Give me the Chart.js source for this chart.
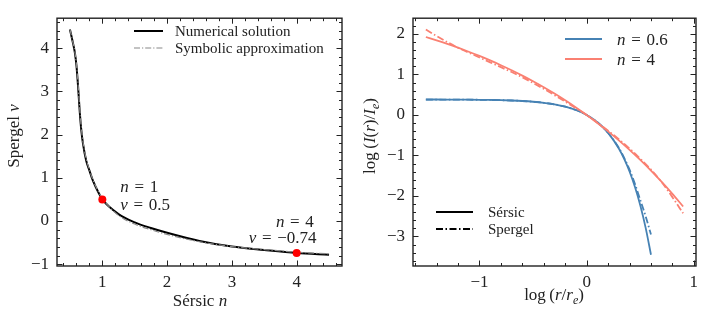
<!DOCTYPE html>
<html>
<head>
<meta charset="utf-8">
<script src="https://cdn.jsdelivr.net/npm/chart.js@4"></script>
<style>
  html, body { margin: 0; padding: 0; background: #fff; }
  #wrap { position: relative; width: 706px; height: 319px; }
  canvas { position: absolute; top: 0; }
</style>
</head>
<body>
<div id="wrap">
  <canvas id="left" width="353" height="319" style="left:0"></canvas>
  <canvas id="right" width="353" height="319" style="left:353px"></canvas>
</div>
<script>
// left panel: Spergel nu against Sersic n
const sersicN = [0.5, 0.55, 0.575, 0.6, 0.625, 0.65, 0.675, 0.7, 0.75, 0.8, 0.85, 0.9, 0.95, 1.0,
  1.25, 1.5, 1.75, 2.0, 2.5, 3.0, 3.5, 4.0, 4.5];
const nuNumerical = [4.43, 4.09, 3.90, 3.60, 3.12, 2.55, 2.10, 1.80, 1.40, 1.17, 0.95, 0.78, 0.63, 0.50,
  0.16, -0.03, -0.16, -0.27, -0.46, -0.59, -0.67, -0.74, -0.78];
const nuSymbolic = [4.43, 4.10, 3.92, 3.63, 3.18, 2.62, 2.16, 1.84, 1.44, 1.19, 0.97, 0.80, 0.65, 0.52,
  0.13, -0.07, -0.20, -0.31, -0.48, -0.59, -0.66, -0.72, -0.76];
const markedN = [1, 4];
const markedNu = [0.5, -0.74];

// right panel: profiles, log(r/re) against log(I/Ie)
const logR4 = [-1.5, -1.4, -1.3, -1.2, -1.1, -1.0, -0.9, -0.8, -0.7, -0.6, -0.5, -0.4, -0.3, -0.2, -0.1,
  0, 0.1, 0.2, 0.3, 0.4, 0.5, 0.6, 0.7, 0.8, 0.9];
const sersic4 = [1.926, 1.843, 1.755, 1.661, 1.562, 1.458, 1.347, 1.229, 1.105, 0.973, 0.833, 0.685, 0.528,
  0.362, 0.186, 0, -0.197, -0.406, -0.628, -0.862, -1.111, -1.374, -1.653, -1.948, -2.261];
const spergel4 = [2.11, 1.95, 1.80, 1.66, 1.54, 1.42, 1.30, 1.18, 1.06, 0.93, 0.79, 0.645, 0.49,
  0.33, 0.165, 0, -0.19, -0.39, -0.60, -0.83, -1.08, -1.35, -1.66, -2.03, -2.43];
const logR06 = [-1.5, -1.4, -1.3, -1.2, -1.1, -1.0, -0.9, -0.8, -0.7, -0.6, -0.5, -0.4, -0.3, -0.2, -0.1,
  0, 0.1, 0.2, 0.3, 0.35, 0.4, 0.45, 0.5, 0.55, 0.6];
const sersic06 = [0.382, 0.382, 0.381, 0.380, 0.378, 0.375, 0.371, 0.366, 0.357, 0.345, 0.327, 0.301, 0.262,
  0.205, 0.122, 0, -0.179, -0.443, -0.829, -1.086, -1.397, -1.773, -2.229, -2.782, -3.452];
const spergel06 = [0.380, 0.380, 0.380, 0.379, 0.377, 0.375, 0.371, 0.365, 0.357, 0.345, 0.327, 0.300, 0.262,
  0.205, 0.122, 0, -0.178, -0.44, -0.81, -1.06, -1.35, -1.70, -2.10, -2.50, -2.95];

const serif = '"Liberation Serif", "Times New Roman", serif';
const ink = "#222";
const blue = "#4682b4";
const salmon = "#fa8072";
const dashDot = [7, 2.5, 1.5, 2.5];

const pts = (xs, ys) => xs.map((x, i) => ({ x, y: ys[i] }));
const fmt = v => (v < 0 ? "\u2212" + Math.abs(v) : String(v));

function segFont(s, size) {
  if (s === "i") return `italic ${size}px ${serif}`;
  if (s === "s") return `italic ${Math.round(size * 0.7)}px ${serif}`;
  return `${size}px ${serif}`;
}

// text made of roman / italic / subscript pieces
function drawRich(ctx, segs, x, y, size, align) {
  ctx.save();
  ctx.fillStyle = ink;
  ctx.textBaseline = "alphabetic";
  let w = 0;
  segs.forEach(([t, s]) => { ctx.font = segFont(s, size); w += ctx.measureText(t).width; });
  let cx = align === "center" ? x - w / 2 : align === "right" ? x - w : x;
  segs.forEach(([t, s]) => {
    ctx.font = segFont(s, size);
    ctx.fillText(t, cx, s === "s" ? y + size * 0.22 : y);
    cx += ctx.measureText(t).width;
  });
  ctx.restore();
}

function drawRotated(ctx, segs, x, y, size) {
  ctx.save();
  ctx.translate(x, y);
  ctx.rotate(-Math.PI / 2);
  drawRich(ctx, segs, 0, 0, size, "center");
  ctx.restore();
}

function legendLine(ctx, x1, x2, y, color, width, dash) {
  ctx.save();
  ctx.strokeStyle = color;
  ctx.lineWidth = width;
  ctx.setLineDash(dash || []);
  ctx.beginPath();
  ctx.moveTo(x1, y);
  ctx.lineTo(x2, y);
  ctx.stroke();
  ctx.restore();
}

// inward ticks on all four sides plus the frame
const frameTicks = {
  id: "frameTicks",
  afterDraw(chart) {
    const { ctx, chartArea: a, scales: { x, y } } = chart;
    ctx.save();
    ctx.strokeStyle = ink;
    ctx.lineWidth = 1;
    const mark = (scale, step, len) => {
      const start = Math.ceil(scale.min / step - 1e-9);
      for (let k = start; k * step <= scale.max + 1e-9; k++) {
        const p = Math.round(scale.getPixelForValue(k * step)) + 0.5;
        ctx.beginPath();
        if (scale.axis === "x") {
          ctx.moveTo(p, a.bottom); ctx.lineTo(p, a.bottom - len);
          ctx.moveTo(p, a.top); ctx.lineTo(p, a.top + len);
        } else {
          ctx.moveTo(a.left, p); ctx.lineTo(a.left + len, p);
          ctx.moveTo(a.right, p); ctx.lineTo(a.right - len, p);
        }
        ctx.stroke();
      }
    };
    mark(x, 0.2, 3); mark(x, 1, 5.5);
    mark(y, 0.2, 3); mark(y, 1, 5.5);
    ctx.lineWidth = 1.4;
    ctx.strokeRect(a.left, a.top, a.right - a.left, a.bottom - a.top);
    ctx.restore();
  }
};

function axes(xmin, xmax, ymin, ymax, yWidth) {
  const tickFont = { family: serif, size: 17 };
  return {
    x: {
      type: "linear", min: xmin, max: xmax,
      grid: { display: false, drawTicks: false },
      border: { display: false },
      ticks: { stepSize: 1, includeBounds: false, autoSkip: false, maxRotation: 0, padding: 6,
        color: ink, font: tickFont, callback: fmt },
      afterFit: s => { s.height = 53; }
    },
    y: {
      type: "linear", min: ymin, max: ymax,
      grid: { display: false, drawTicks: false },
      border: { display: false },
      ticks: { stepSize: 1, includeBounds: false, autoSkip: false, padding: 8,
        color: ink, font: tickFont, callback: fmt },
      afterFit: s => { s.width = yWidth; }
    }
  };
}

const common = {
  responsive: false,
  animation: false,
  plugins: { legend: { display: false }, tooltip: { enabled: false } },
  elements: { point: { radius: 0 }, line: { cubicInterpolationMode: "monotone" } }
};

const eq = "\u2004=\u2004";

const leftText = {
  id: "leftText",
  afterDraw(chart) {
    const { ctx, scales: { x, y } } = chart;
    // legend
    legendLine(ctx, 134, 163, 31, "#000", 2);
    legendLine(ctx, 134, 163, 48, "#888", 1.2, [6, 2, 1.2, 2]);
    drawRich(ctx, [["Numerical solution", "r"]], 175, 36, 15, "left");
    drawRich(ctx, [["Symbolic approximation", "r"]], 175, 53, 15, "left");
    // annotations
    drawRich(ctx, [["n", "i"], [eq + "1", "r"]], x.getPixelForValue(1.276), y.getPixelForValue(0.665), 17, "left");
    drawRich(ctx, [["\u03bd", "i"], [eq + "0.5", "r"]], x.getPixelForValue(1.276), y.getPixelForValue(0.258), 17, "left");
    drawRich(ctx, [["n", "i"], [eq + "4", "r"]], x.getPixelForValue(3.68), y.getPixelForValue(-0.139), 17, "left");
    drawRich(ctx, [["\u03bd", "i"], [eq + "\u22120.74", "r"]], x.getPixelForValue(3.26), y.getPixelForValue(-0.513), 17, "left");
    // axis titles
    drawRich(ctx, [["S\u00e9rsic ", "r"], ["n", "i"]], 200, 306, 17, "center");
    drawRotated(ctx, [["Spergel ", "r"], ["\u03bd", "i"]], 19, 136, 17);
  }
};

new Chart(document.getElementById("left"), {
  type: "line",
  data: {
    datasets: [
      { data: pts(markedN, markedNu), showLine: false, pointRadius: 4, pointBackgroundColor: "#ff0000",
        pointBorderWidth: 0, borderColor: "#ff0000" },
      { data: pts(sersicN, nuSymbolic), borderColor: "#888", borderWidth: 1.2, borderDash: [6, 2, 1.2, 2] },
      { data: pts(sersicN, nuNumerical), borderColor: "#000", borderWidth: 2 }
    ]
  },
  options: {
    ...common,
    layout: { padding: { top: 6, right: 11, left: 0, bottom: 0 } },
    scales: axes(0.3, 4.7, -1.04, 4.69, 57)
  },
  plugins: [frameTicks, leftText]
});

const rightText = {
  id: "rightText",
  afterDraw(chart) {
    const { ctx } = chart;
    legendLine(ctx, 212, 249, 39, blue, 1.8);
    legendLine(ctx, 212, 249, 59, salmon, 1.8);
    drawRich(ctx, [["n", "i"], [eq + "0.6", "r"]], 264, 45, 17, "left");
    drawRich(ctx, [["n", "i"], [eq + "4", "r"]], 264, 65, 17, "left");
    legendLine(ctx, 83, 120, 212, "#000", 1.8);
    legendLine(ctx, 83, 120, 229, "#000", 1.8, dashDot);
    drawRich(ctx, [["S\u00e9rsic", "r"]], 135, 217, 15, "left");
    drawRich(ctx, [["Spergel", "r"]], 135, 234, 15, "left");
    drawRich(ctx, [["log\u2009(", "r"], ["r", "i"], ["/", "r"], ["r", "i"], ["e", "s"], [")", "r"]], 201, 300, 17, "center");
    drawRotated(ctx, [["log\u2009(", "r"], ["I", "i"], ["(", "r"], ["r", "i"], [")/", "r"], ["I", "i"], ["e", "s"], [")", "r"]], 22, 136, 17);
  }
};

new Chart(document.getElementById("right"), {
  type: "line",
  data: {
    datasets: [
      { data: pts(logR4, spergel4), borderColor: salmon, borderWidth: 1.8, borderDash: dashDot },
      { data: pts(logR4, sersic4), borderColor: salmon, borderWidth: 1.8 },
      { data: pts(logR06, spergel06), borderColor: blue, borderWidth: 1.8, borderDash: dashDot },
      { data: pts(logR06, sersic06), borderColor: blue, borderWidth: 1.8 }
    ]
  },
  options: {
    ...common,
    layout: { padding: { top: 6, right: 10, left: 0, bottom: 0 } },
    scales: axes(-1.62, 1.02, -3.73, 2.39, 60)
  },
  plugins: [frameTicks, rightText]
});
</script>
</body>
</html>
